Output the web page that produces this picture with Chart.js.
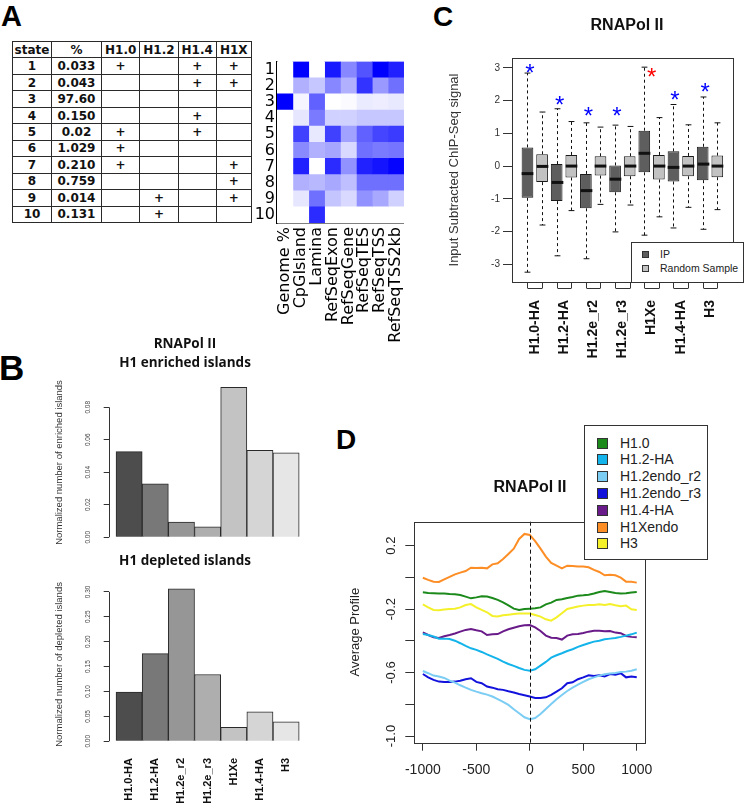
<!DOCTYPE html>
<html>
<head>
<meta charset="utf-8">
<script src="https://cdn.jsdelivr.net/npm/chart.js@4.4.1/dist/chart.umd.min.js"></script>
<style>
  body { margin: 0; background: #fff; }
  #page { position: relative; width: 745px; height: 806px; overflow: hidden; background: #fff;
          font-family: "Liberation Sans", Arial, sans-serif; color: #111; }
  canvas { position: absolute; }
  .letter { position: absolute; font-weight: bold; line-height: 1; color: #000; }
  .title { position: absolute; text-align: center; font-weight: bold; white-space: nowrap; color: #111; }
  table.states { position: absolute; left: 12px; top: 41px; border-collapse: collapse; table-layout: fixed;
                 font-family: "DejaVu Sans", sans-serif; font-weight: bold; font-size: 12px; color: #111; }
  table.states td { border: 1.5px solid #2a2a2a; padding: 0; text-align: center; line-height: 1; }
  table.states tr { height: 16.46px; }
  .legend { position: absolute; background: #fff; border: 1px solid #333; }
  .legend .item { position: absolute; white-space: nowrap; color: #222; }
  .legend .sw { position: absolute; border: 1px solid #333; box-sizing: border-box; }
</style>
</head>
<body>
<div id="page">
  <div class="letter" style="left:1px; top:2px; font-size:29px;">A</div>
  <div class="letter" style="left:-1px; top:350px; font-size:35px;">B</div>
  <div class="letter" style="left:433px; top:3px; font-size:28px;">C</div>
  <div class="letter" style="left:336px; top:426px; font-size:28px;">D</div>

  <table class="states" id="stateTable"></table>

  <canvas id="heat" width="180" height="300" style="left:240px; top:50px;"></canvas>
  <canvas id="enriched" width="270" height="185" style="left:50px; top:370px;"></canvas>
  <canvas id="depleted" width="270" height="236" style="left:50px; top:570px;"></canvas>
  <canvas id="boxes" width="302" height="370" style="left:443px; top:0px;"></canvas>
  <canvas id="profile" width="320" height="306" style="left:344px; top:500px;"></canvas>

  <div class="legend" id="boxLegend" style="left:631px; top:242px; width:111px; height:39px;"></div>
  <div class="legend" id="profileLegend" style="left:584px; top:425px; width:122px; height:133px;"></div>
</div>

<script>
// ---- panel A: chromatin states table ----
const stateIds = ['1', '2', '3', '4', '5', '6', '7', '8', '9', '10'];
const statePct = ['0.033', '0.043', '97.60', '0.150', '0.02', '1.029', '0.210', '0.759', '0.014', '0.131'];
const stateHistones = ['H1.0', 'H1.2', 'H1.4', 'H1X'];
const stateMarks = [
  [1, 0, 1, 1],
  [0, 0, 1, 1],
  [0, 0, 0, 0],
  [0, 0, 1, 0],
  [1, 0, 1, 0],
  [1, 0, 0, 0],
  [1, 0, 0, 1],
  [0, 0, 0, 1],
  [0, 1, 0, 1],
  [0, 1, 0, 0]
];

// ---- panel A: state enrichment heatmap (0 = white, 1 = blue) ----
const heatRows = ['1', '2', '3', '4', '5', '6', '7', '8', '9', '10'];
const heatCols = ['Genome %', 'CpGIsland', 'Lamina', 'RefSeqExon', 'RefSeqGene', 'RefSeqTES', 'RefSeqTSS', 'RefSeqTSS2kb'];
const heatValues = [
  [0, 1.00, 0.00, 0.90, 0.47, 0.67, 1.00, 0.87],
  [0, 0.31, 0.22, 0.47, 0.31, 0.80, 0.40, 0.56],
  [1, 0.04, 0.62, 0.00, 0.02, 0.08, 0.07, 0.09],
  [0, 0.10, 0.52, 0.18, 0.18, 0.22, 0.22, 0.22],
  [0, 0.75, 0.09, 0.75, 0.37, 0.62, 0.73, 0.77],
  [0, 0.46, 0.31, 0.35, 0.15, 0.56, 0.52, 0.54],
  [0, 0.87, 0.00, 0.83, 0.43, 0.87, 0.92, 0.98],
  [0, 0.31, 0.28, 0.34, 0.25, 0.56, 0.56, 0.56],
  [0, 0.10, 0.56, 0.23, 0.15, 0.43, 0.34, 0.18],
  [0, 0.00, 0.83, 0.00, 0.00, 0.00, 0.00, 0.00]
];

// ---- panel B: normalized island counts ----
const islandLabels = ['H1.0-HA', 'H1.2-HA', 'H1.2e_r2', 'H1.2e_r3', 'H1Xe', 'H1.4-HA', 'H3'];
const enrichedValues = [0.0527, 0.0329, 0.0093, 0.0064, 0.0922, 0.0535, 0.0520];
const depletedValues = [0.099, 0.176, 0.306, 0.134, 0.028, 0.059, 0.039];
const enrichedTicks = [0, 0.02, 0.04, 0.06, 0.08];
const depletedTicks = [0, 0.05, 0.10, 0.15, 0.20, 0.25, 0.30];
const islandGrays = ['#4d4d4d', '#787878', '#969696', '#aeaeae', '#c3c3c3', '#d5d5d5', '#e6e6e6'];

// ---- panel C: boxplot summaries (IP vs random sample) ----
const boxGroups = ['H1.0-HA', 'H1.2-HA', 'H1.2e_r2', 'H1.2e_r3', 'H1Xe', 'H1.4-HA', 'H3'];
const ipLow    = [-3.24, -2.74, -2.83, -2.01, -2.11, -1.89, -1.93];
const ipQ1     = [-0.97, -1.07, -1.29, -0.80, -0.19, -0.47, -0.43];
const ipMedian = [-0.23, -0.50, -0.75, -0.40, 0.39, -0.04, 0.06];
const ipQ3     = [0.57, 0.06, -0.24, 0.02, 1.08, 0.45, 0.59];
const ipHigh   = [2.84, 1.75, 1.32, 1.25, 3.02, 1.88, 2.11];
const rndLow    = [-1.80, -1.36, -1.17, -1.19, -1.55, -1.26, -1.33];
const rndQ1     = [-0.49, -0.35, -0.29, -0.31, -0.41, -0.31, -0.34];
const rndMedian = [-0.01, 0, 0, 0, 0, 0, 0];
const rndQ3     = [0.36, 0.34, 0.30, 0.30, 0.34, 0.31, 0.32];
const rndHigh   = [1.65, 1.36, 1.19, 1.21, 1.48, 1.26, 1.32];
const starAt     = [1.17, 3.2, 5.17, 7.13, 9.5, 11.1, 13.17];
const starValues = [3.02, 2.05, 1.69, 1.69, 2.90, 2.18, 2.45];
const starColors = ['#0000ff', '#0000ff', '#0000ff', '#0000ff', '#ff0000', '#0000ff', '#0000ff'];
const boxTicks = [-3, -2, -1, 0, 1, 2, 3];

// ---- panel D: average profiles around TSS ----
const profilePos = [-1000, -950, -900, -850, -800, -750, -700, -650, -600, -550, -500, -450, -400, -350, -300,
  -250, -200, -150, -100, -50, 0, 50, 100, 150, 200, 250, 300, 350, 400, 450, 500, 550, 600, 650, 700, 750,
  800, 850, 900, 950, 1000];
const profileNames = ['H1.0', 'H1.2-HA', 'H1.2endo_r2', 'H1.2endo_r3', 'H1.4-HA', 'H1Xendo', 'H3'];
const profileColors = ['#1b8a1b', '#14b4ea', '#7ccdf4', '#1212dc', '#6a1b8a', '#fd8d25', '#f4f02a'];
const profH10 = [-0.094, -0.098, -0.100, -0.102, -0.102, -0.105, -0.107, -0.111, -0.121, -0.132, -0.126,
  -0.119, -0.121, -0.130, -0.142, -0.157, -0.176, -0.197, -0.205, -0.199, -0.197, -0.195, -0.189, -0.170,
  -0.159, -0.142, -0.138, -0.130, -0.123, -0.115, -0.113, -0.109, -0.102, -0.092, -0.086, -0.092, -0.098,
  -0.102, -0.100, -0.096, -0.092];
const profH12HA = [-0.357, -0.363, -0.373, -0.386, -0.386, -0.388, -0.399, -0.415, -0.432, -0.447, -0.457,
  -0.470, -0.485, -0.499, -0.514, -0.531, -0.546, -0.558, -0.571, -0.583, -0.588, -0.579, -0.556, -0.533,
  -0.506, -0.491, -0.478, -0.464, -0.453, -0.438, -0.426, -0.415, -0.405, -0.399, -0.390, -0.386, -0.382,
  -0.375, -0.367, -0.359, -0.348];
const profH12r2 = [-0.590, -0.604, -0.619, -0.625, -0.634, -0.651, -0.663, -0.680, -0.695, -0.709, -0.720,
  -0.730, -0.739, -0.751, -0.768, -0.785, -0.804, -0.831, -0.856, -0.882, -0.894, -0.886, -0.861, -0.829,
  -0.798, -0.768, -0.741, -0.716, -0.695, -0.676, -0.659, -0.642, -0.630, -0.619, -0.611, -0.606, -0.602,
  -0.596, -0.594, -0.588, -0.579];
const profH12r3 = [-0.609, -0.630, -0.646, -0.657, -0.659, -0.659, -0.657, -0.651, -0.642, -0.636, -0.659,
  -0.667, -0.688, -0.695, -0.705, -0.709, -0.718, -0.726, -0.735, -0.743, -0.751, -0.760, -0.760, -0.756,
  -0.741, -0.720, -0.699, -0.667, -0.661, -0.642, -0.630, -0.617, -0.621, -0.617, -0.625, -0.609, -0.613,
  -0.604, -0.630, -0.625, -0.630];
const profH14HA = [-0.346, -0.363, -0.378, -0.382, -0.371, -0.363, -0.354, -0.342, -0.331, -0.325, -0.333,
  -0.340, -0.363, -0.359, -0.357, -0.340, -0.327, -0.317, -0.308, -0.302, -0.300, -0.315, -0.338, -0.367,
  -0.380, -0.382, -0.392, -0.367, -0.359, -0.357, -0.350, -0.342, -0.336, -0.336, -0.340, -0.338, -0.348,
  -0.352, -0.369, -0.375, -0.378];
const profH1X = [-0.002, -0.016, -0.027, -0.029, -0.012, 0.003, 0.019, 0.030, 0.040, 0.061, 0.059, 0.061,
  0.057, 0.082, 0.089, 0.116, 0.148, 0.181, 0.242, 0.274, 0.267, 0.229, 0.181, 0.131, 0.091, 0.074, 0.057,
  0.074, 0.072, 0.068, 0.068, 0.064, 0.047, 0.034, 0.013, 0.017, 0.013, -0.002, -0.027, -0.027, -0.033];
const profH3 = [-0.170, -0.189, -0.205, -0.207, -0.203, -0.199, -0.197, -0.189, -0.174, -0.168, -0.189,
  -0.205, -0.220, -0.243, -0.247, -0.239, -0.235, -0.231, -0.228, -0.228, -0.228, -0.237, -0.247, -0.264,
  -0.273, -0.252, -0.226, -0.199, -0.191, -0.184, -0.178, -0.174, -0.174, -0.170, -0.174, -0.168, -0.176,
  -0.182, -0.178, -0.201, -0.205];
const profileSeries = [profH10, profH12HA, profH12r2, profH12r3, profH14HA, profH1X, profH3];
const profileTicks = [-1.0, -0.8, -0.6, -0.4, -0.2, 0.0, 0.2];
const profileLabeled = [0.2, -0.2, -0.6, -1.0];
const profileXTicks = [-1000, -500, 0, 500, 1000];

Chart.defaults.font.family = '"Liberation Sans", Arial, sans-serif';
Chart.defaults.animation = false;
Chart.defaults.responsive = false;
Chart.defaults.plugins.legend.display = false;
Chart.defaults.plugins.tooltip.enabled = false;

// html bits: titles, table, legends
function addTitle(text, cx, cy, size, family) {
  const d = document.createElement('div');
  d.className = 'title';
  d.textContent = text;
  d.style.fontSize = size + 'px';
  d.style.lineHeight = (size * 1.2) + 'px';
  d.style.left = (cx - 150) + 'px';
  d.style.width = '300px';
  d.style.top = (cy - size * 0.6) + 'px';
  if (family) d.style.fontFamily = family;
  document.getElementById('page').appendChild(d);
}
addTitle('RNAPol II', 185, 343, 13.5, '"Open Sans", sans-serif');
addTitle('H1 enriched islands', 185, 362, 13.5, '"Open Sans", sans-serif');
addTitle('H1 depleted islands', 185, 560, 13.5, '"Open Sans", sans-serif');
addTitle('RNAPol II', 627, 25, 16);
addTitle('RNAPol II', 530, 487, 16);

const table = document.getElementById('stateTable');
const colWidths = [39, 50, 38.3, 38.3, 38.3, 34.7];
const cg = document.createElement('colgroup');
colWidths.forEach(w => { const c = document.createElement('col'); c.style.width = w + 'px'; cg.appendChild(c); });
table.appendChild(cg);
const head = table.insertRow();
['state', '%'].concat(stateHistones).forEach(h => { head.insertCell().textContent = h; });
stateIds.forEach((s, i) => {
  const tr = table.insertRow();
  tr.insertCell().textContent = s;
  tr.insertCell().textContent = statePct[i];
  stateMarks[i].forEach(m => { tr.insertCell().textContent = m ? '+' : ''; });
});

function buildLegend(id, names, colors, opt) {
  const box = document.getElementById(id);
  names.forEach((n, i) => {
    const sw = document.createElement('div');
    sw.className = 'sw';
    sw.style.left = opt.swX + 'px';
    sw.style.top = (opt.y0 + i * opt.step - opt.sw / 2) + 'px';
    sw.style.width = opt.sw + 'px';
    sw.style.height = opt.sw + 'px';
    sw.style.background = colors[i];
    box.appendChild(sw);
    const t = document.createElement('div');
    t.className = 'item';
    t.textContent = n;
    t.style.left = opt.textX + 'px';
    t.style.fontSize = opt.font + 'px';
    t.style.lineHeight = (opt.font * 1.2) + 'px';
    t.style.top = (opt.y0 + i * opt.step - opt.font * 0.6) + 'px';
    box.appendChild(t);
  });
}
buildLegend('boxLegend', ['IP', 'Random Sample'], ['#5e5e5e', '#c2c2c2'],
  { swX: 10, sw: 7, textX: 28, y0: 11, step: 14.5, font: 10.5 });
buildLegend('profileLegend', profileNames, profileColors,
  { swX: 12, sw: 11, textX: 35, y0: 17, step: 16.8, font: 14 });

// ---- shared plugins ----
const frame = {
  id: 'frame',
  afterDraw(chart) {
    const { ctx, chartArea: a } = chart;
    ctx.save();
    ctx.strokeStyle = '#333';
    ctx.lineWidth = 1;
    ctx.strokeRect(Math.round(a.left) + 0.5, Math.round(a.top) + 0.5, Math.round(a.right - a.left), Math.round(a.bottom - a.top));
    ctx.restore();
  }
};

// R style y axis line, only between first and last tick
const rAxisLine = {
  id: 'rAxisLine',
  afterDraw(chart) {
    const y = chart.scales.y;
    const ctx = chart.ctx;
    const x = Math.round(chart.chartArea.left) + 0.5;
    ctx.save();
    ctx.strokeStyle = '#333';
    ctx.lineWidth = 1;
    ctx.beginPath();
    ctx.moveTo(x, y.getPixelForValue(y.ticks[0].value));
    ctx.lineTo(x, y.getPixelForValue(y.ticks[y.ticks.length - 1].value));
    ctx.stroke();
    ctx.restore();
  }
};

function blueShade(v) {
  const c = Math.round(255 * (1 - v));
  return `rgb(${c},${c},255)`;
}

// ---- heatmap ----
new Chart(document.getElementById('heat'), {
  type: 'bar',
  data: {
    labels: heatRows,
    datasets: heatCols.map((c, j) => ({
      label: c,
      data: heatRows.map(() => 1),
      backgroundColor: heatValues.map(r => blueShade(r[j])),
      borderWidth: 0,
      barPercentage: 1,
      categoryPercentage: 1
    }))
  },
  options: {
    indexAxis: 'y',
    layout: { padding: { top: 11, right: 12 } },
    scales: {
      x: {
        stacked: true, min: 0, max: 8,
        afterBuildTicks: ax => { ax.ticks = heatCols.map((c, i) => ({ value: i + 0.5 })); },
        ticks: { autoSkip: false, minRotation: 90, maxRotation: 90, padding: 4, color: '#000',
                 font: { family: '"DejaVu Sans", sans-serif', size: 16 },
                 callback: (v, i) => heatCols[i] },
        grid: { display: false, drawTicks: false },
        border: { color: '#000', width: 1.5 },
        afterFit: ax => { ax.height = 127; }
      },
      y: {
        stacked: true,
        ticks: { autoSkip: false, padding: 2, color: '#000', font: { family: '"DejaVu Sans", sans-serif', size: 16 } },
        grid: { display: false, drawTicks: false },
        border: { color: '#000', width: 1.5 },
        afterFit: ax => { ax.width = 37; }
      }
    }
  }
});

// ---- panel B bar charts ----
function islandChart(id, values, ticks, yMin, yMax, yTitle, pad, showX) {
  return new Chart(document.getElementById(id), {
    type: 'bar',
    data: {
      datasets: [{
        data: values.map((v, i) => ({ x: i + 0.5, y: v })),
        backgroundColor: islandGrays,
        borderColor: '#2a2a2a',
        borderWidth: 1,
        barPercentage: 1,
        categoryPercentage: 1
      }]
    },
    options: {
      layout: { padding: pad },
      scales: {
        x: {
          type: 'linear', offset: false, min: -0.28, max: 7.28, display: showX,
          afterBuildTicks: ax => { ax.ticks = islandLabels.map((l, i) => ({ value: i + 0.5 })); },
          ticks: { autoSkip: false, minRotation: 90, maxRotation: 90, padding: 12, color: '#111',
                   font: { size: 11, weight: 'bold' }, callback: (v, i) => islandLabels[i] },
          grid: { display: false, drawTicks: false },
          border: { display: false },
          afterFit: ax => { ax.height = showX ? 60 : 0; }
        },
        y: {
          min: yMin, max: yMax,
          afterBuildTicks: ax => { ax.ticks = ticks.map(v => ({ value: v })); },
          ticks: { autoSkip: false, minRotation: 90, maxRotation: 90, crossAlign: 'center', padding: 9,
                   color: '#444', font: { size: 6.5 }, callback: v => v.toFixed(2) },
          grid: { drawOnChartArea: false, tickLength: 5, color: '#333' },
          border: { display: false },
          title: { display: true, text: yTitle, color: '#333', font: { size: 9.5 }, padding: { top: 4, bottom: 0 } },
          afterFit: ax => { ax.width = 58.7; }
        }
      }
    },
    plugins: [rAxisLine]
  });
}
islandChart('enriched', enrichedValues, enrichedTicks, -0.003, 0.095,
  'Normalized number of enriched islands', { top: 6, bottom: 10, right: 13.5 }, false);
islandChart('depleted', depletedValues, depletedTicks, -0.0095, 0.318,
  'Normalized number of depleted islands', { top: 5.6, right: 13.5 }, true);

// ---- panel C boxplot ----
const boxExtras = {
  id: 'boxExtras',
  afterDatasetsDraw(chart) {
    const { ctx, scales: { x, y }, chartArea: a } = chart;
    const unit = x.getPixelForValue(1) - x.getPixelForValue(0);
    const half = unit * 0.4;
    const sets = [
      { off: 1, lo: ipLow, med: ipMedian, q1: ipQ1, q3: ipQ3, hi: ipHigh },
      { off: 2, lo: rndLow, med: rndMedian, q1: rndQ1, q3: rndQ3, hi: rndHigh }
    ];
    const seg = (x1, y1, x2, y2) => { ctx.beginPath(); ctx.moveTo(x1, y1); ctx.lineTo(x2, y2); ctx.stroke(); };
    ctx.save();
    ctx.strokeStyle = '#111';
    sets.forEach(s => boxGroups.forEach((g, i) => {
      const px = Math.round(x.getPixelForValue(2 * i + s.off)) + 0.5;
      ctx.lineWidth = 1;
      ctx.setLineDash([3, 3]);
      seg(px, y.getPixelForValue(s.q3[i]), px, y.getPixelForValue(s.hi[i]));
      seg(px, y.getPixelForValue(s.q1[i]), px, y.getPixelForValue(s.lo[i]));
      ctx.setLineDash([]);
      seg(px - half / 2, y.getPixelForValue(s.hi[i]), px + half / 2, y.getPixelForValue(s.hi[i]));
      seg(px - half / 2, y.getPixelForValue(s.lo[i]), px + half / 2, y.getPixelForValue(s.lo[i]));
      ctx.lineWidth = 3;
      seg(px - half, y.getPixelForValue(s.med[i]), px + half, y.getPixelForValue(s.med[i]));
    }));
    // group brackets under the plot
    ctx.lineWidth = 1;
    ctx.strokeStyle = '#333';
    boxGroups.forEach((g, i) => {
      const x1 = Math.round(x.getPixelForValue(2 * i + 1)) + 0.5;
      const x2 = Math.round(x.getPixelForValue(2 * i + 2)) + 0.5;
      seg(x1, a.bottom, x1, a.bottom + 6);
      seg(x2, a.bottom, x2, a.bottom + 6);
      seg(x1, a.bottom + 6.5, x2, a.bottom + 6.5);
    });
    // significance stars
    ctx.font = '24px "Liberation Sans", Arial, sans-serif';
    ctx.textAlign = 'center';
    ctx.textBaseline = 'alphabetic';
    starValues.forEach((v, i) => {
      ctx.fillStyle = starColors[i];
      ctx.fillText('*', x.getPixelForValue(starAt[i]), y.getPixelForValue(v) + 13.7);
    });
    ctx.restore();
  }
};

new Chart(document.getElementById('boxes'), {
  type: 'bar',
  data: {
    datasets: [
      { label: 'IP', data: boxGroups.map((g, i) => ({ x: 2 * i + 1, y: [ipQ1[i], ipQ3[i]] })),
        backgroundColor: '#5e5e5e', borderColor: '#1a1a1a', borderWidth: 1, borderSkipped: false,
        grouped: false, barPercentage: 0.8, categoryPercentage: 1 },
      { label: 'Random Sample', data: boxGroups.map((g, i) => ({ x: 2 * i + 2, y: [rndQ1[i], rndQ3[i]] })),
        backgroundColor: '#c2c2c2', borderColor: '#1a1a1a', borderWidth: 1, borderSkipped: false,
        grouped: false, barPercentage: 0.8, categoryPercentage: 1 }
    ]
  },
  options: {
    layout: { padding: { top: 58, right: 2 } },
    scales: {
      x: {
        type: 'linear', offset: false, min: -0.06, max: 15.06,
        afterBuildTicks: ax => { ax.ticks = boxGroups.map((g, i) => ({ value: 2 * i + 1.5 })); },
        ticks: { autoSkip: false, minRotation: 90, maxRotation: 90, padding: 18, color: '#111',
                 font: { size: 14, weight: 'bold' }, callback: (v, i) => boxGroups[i] },
        grid: { display: false, drawTicks: false },
        border: { display: false },
        afterFit: ax => { ax.height = 88; }
      },
      y: {
        min: -3.54, max: 3.30,
        afterBuildTicks: ax => { ax.ticks = boxTicks.map(v => ({ value: v })); },
        ticks: { padding: 3, color: '#333', font: { size: 10 }, callback: v => String(v) },
        grid: { drawOnChartArea: false, tickLength: 9, color: '#333' },
        border: { display: false },
        title: { display: true, text: 'Input Subtracted ChIP-Seq signal', color: '#333', font: { size: 13 } },
        afterFit: ax => { ax.width = 69; }
      }
    }
  },
  plugins: [frame, boxExtras]
});

// ---- panel D average profiles ----
const zeroLine = {
  id: 'zeroLine',
  afterDatasetsDraw(chart) {
    const { ctx, scales: { x }, chartArea: a } = chart;
    const px = Math.round(x.getPixelForValue(0)) + 0.5;
    ctx.save();
    ctx.strokeStyle = '#111';
    ctx.lineWidth = 1;
    ctx.setLineDash([4, 3]);
    ctx.beginPath();
    ctx.moveTo(px, a.top);
    ctx.lineTo(px, a.bottom);
    ctx.stroke();
    ctx.restore();
  }
};

new Chart(document.getElementById('profile'), {
  type: 'line',
  data: {
    datasets: profileNames.map((n, k) => ({
      label: n,
      data: profilePos.map((p, i) => ({ x: p, y: profileSeries[k][i] })),
      borderColor: profileColors[k],
      borderWidth: 2,
      pointRadius: 0,
      tension: 0
    }))
  },
  options: {
    layout: { padding: { top: 21.7, right: 18 } },
    scales: {
      x: {
        type: 'linear', min: -1080, max: 1080,
        afterBuildTicks: ax => { ax.ticks = profileXTicks.map(v => ({ value: v })); },
        ticks: { autoSkip: false, maxRotation: 0, padding: 11, color: '#222', font: { size: 14 }, callback: v => String(v) },
        grid: { drawOnChartArea: false, tickLength: 8, color: '#333' },
        border: { display: false },
        afterFit: ax => { ax.height = 63.3; }
      },
      y: {
        min: -1.042, max: 0.351,
        afterBuildTicks: ax => { ax.ticks = profileTicks.map(v => ({ value: v })); },
        ticks: { autoSkip: false, minRotation: 90, maxRotation: 90, crossAlign: 'center', padding: 3,
                 color: '#222', font: { size: 13 },
                 callback: v => profileLabeled.some(l => Math.abs(l - v) < 1e-9) ? v.toFixed(1) : '' },
        grid: { drawOnChartArea: false, tickLength: 9, color: '#333' },
        border: { display: false },
        title: { display: true, text: 'Average Profile', color: '#222', font: { size: 13 } },
        afterFit: ax => { ax.width = 70.3; }
      }
    }
  },
  plugins: [frame, zeroLine]
});
</script>
</body>
</html>
